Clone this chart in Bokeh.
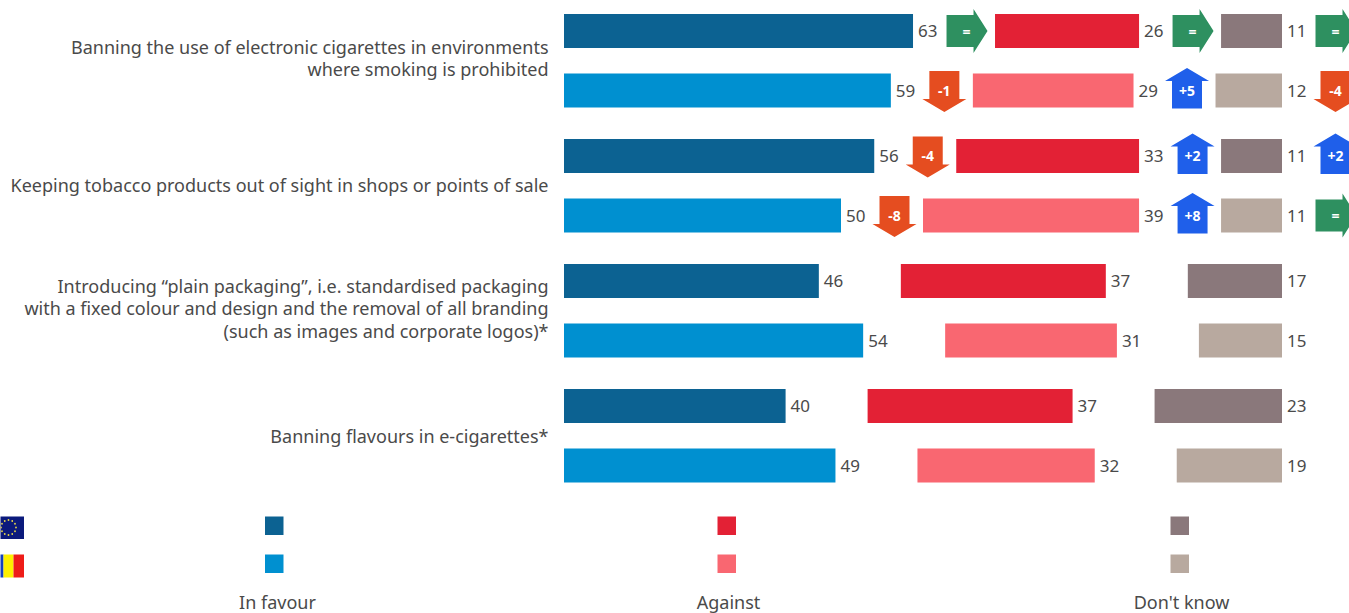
from bokeh.core.properties import value
from bokeh.embed import file_html
from bokeh.models import Range1d
from bokeh.plotting import figure
from bokeh.resources import INLINE
import numpy as np

WIDTH, HEIGHT = 1349, 613

# Survey results, one entry per bar pair row: EU then Romania for each statement
favour = [63, 59, 56, 50, 46, 54, 40, 49]
against = [26, 29, 33, 39, 37, 31, 37, 32]
dont_know = [11, 12, 11, 11, 17, 15, 23, 19]

# Change since the previous wave; None where the statement is new
favour_change = ["=", "-1", "-4", "-8", None, None, None, None]
against_change = ["=", "+5", "+2", "+8", None, None, None, None]
dont_know_change = ["=", "-4", "+2", "=", None, None, None, None]

statement_lines = [
    "Banning the use of electronic cigarettes in environments",
    "where smoking is prohibited",
    "Keeping tobacco products out of sight in shops or points of sale",
    "Introducing “plain packaging”, i.e. standardised packaging",
    "with a fixed colour and design and the removal of all branding",
    "(such as images and corporate logos)*",
    "Banning flavours in e-cigarettes*",
]
legend_names = ["In favour", "Against", "Don't know"]

# Layout, in screen pixels
row_y = np.array([30.5, 90, 155.5, 215, 280.5, 340, 405.5, 465])
line_y = [46, 68.5, 184, 285, 307.5, 330, 435]
BAR_H = 34
ORIGIN = 563.5
PX_PER_UNIT = 5.54
GAP = 82 / PX_PER_UNIT
FONT = value("Noto Sans")
TEXT = "#4a4a4a"

EU_COLORS = ["#0c6292", "#e32135", "#8a787b"]
RO_COLORS = ["#0090d0", "#f96771", "#b8a99f"]
UP, DOWN, SAME = "#1f5fea", "#e54d20", "#2e9060"


def px(x):
    """Horizontal screen pixel to data units."""
    return (np.asarray(x, dtype=float) - ORIGIN) / PX_PER_UNIT


def unit(d):
    """Horizontal pixel distance to data units."""
    return d / PX_PER_UNIT


p = figure(
    width=WIDTH, height=HEIGHT, output_backend="svg", toolbar_location=None,
    x_range=Range1d(px(0), px(WIDTH)), y_range=Range1d(HEIGHT, 0),
    x_axis_type=None, y_axis_type=None, min_border=0, outline_line_color=None,
    background_fill_color="white", border_fill_color="white",
)
p.grid.visible = False

# Three stacked segments separated by a fixed gap
fav = np.array(favour, float)
aga = np.array(against, float)
dkn = np.array(dont_know, float)
starts = [np.zeros(8), fav + GAP, fav + aga + 2 * GAP]
widths = [fav, aga, dkn]
series_changes = [favour_change, against_change, dont_know_change]


def draw_arrow(end, y, change):
    """Trend arrow placed after a bar end, with its change written inside."""
    c = end + unit(53.5)
    if change == "=":
        xs = [c - unit(20), c + unit(7), c + unit(7), c + unit(21), c + unit(7), c + unit(7), c - unit(20)]
        ys = [y - 16, y - 16, y - 22, y, y + 22, y + 16, y + 16]
        color = SAME
    elif change.startswith("+"):
        xs = [c - unit(15), c - unit(15), c - unit(22), c, c + unit(22), c + unit(15), c + unit(15)]
        ys = [y + 18, y - 9.5, y - 9.5, y - 22.5, y - 9.5, y - 9.5, y + 18]
        color = UP
    else:
        xs = [c - unit(15), c - unit(15), c - unit(22), c, c + unit(22), c + unit(15), c + unit(15)]
        ys = [y - 19.5, y + 8.5, y + 8.5, y + 21.5, y + 8.5, y + 8.5, y - 19.5]
        color = DOWN
    p.patch(xs, ys, fill_color=color, line_color=None)
    p.text([c], [y], text=[change], text_color="white", text_font=FONT,
           text_font_size="14px", text_font_style="bold",
           text_align="center", text_baseline="middle")


for s in range(3):
    for i in range(8):
        color = (EU_COLORS if i % 2 == 0 else RO_COLORS)[s]
        p.quad(left=starts[s][i], right=starts[s][i] + widths[s][i],
               top=row_y[i] - BAR_H / 2, bottom=row_y[i] + BAR_H / 2,
               fill_color=color, line_color=None)
    ends = starts[s] + widths[s]
    p.text(ends + unit(5), row_y, text=[str(int(v)) for v in widths[s]],
           text_color=TEXT, text_font=FONT, text_font_size="17px",
           text_align="left", text_baseline="middle")
    for i, change in enumerate(series_changes[s]):
        if change is not None:
            draw_arrow(ends[i], row_y[i], change)

# Statement labels, right-aligned against the bars
p.text([px(548)] * len(statement_lines), line_y, text=statement_lines,
       text_color=TEXT, text_font=FONT, text_font_size="18px",
       text_align="right", text_baseline="middle")

# Legend swatches and captions
for x0, cx, name, eu, ro in zip([264.5, 717, 1170], [277, 728, 1181], legend_names, EU_COLORS, RO_COLORS):
    p.quad(left=px(x0), right=px(x0 + 18.5), top=516, bottom=534.5, fill_color=eu, line_color=None)
    p.quad(left=px(x0), right=px(x0 + 18.5), top=554, bottom=572.5, fill_color=ro, line_color=None)
    p.text([px(cx)], [601], text=[name], text_color=TEXT, text_font=FONT, text_font_size="18px",
           text_align="center", text_baseline="middle")

# European flag, running off the left edge of the page
p.quad(left=px(-8), right=px(23.5), top=516, bottom=538.5, fill_color="#0b1a7c", line_color=None)
angles = np.arange(12) * np.pi / 6
p.scatter(px(8 + 7.5 * np.cos(angles)), 527 + 7.5 * np.sin(angles), marker="circle", size=1.8,
          fill_color="#e8d84a", line_color=None)

# Romanian flag, also cropped by the page edge
for x0, x1, c in [(-8, 3, "#1440c0"), (3, 13, "#fdf000"), (13, 23.5, "#ee1c18")]:
    p.quad(left=px(x0), right=px(x1), top=554, bottom=577, fill_color=c, line_color=None)

open("out.html", "w").write(file_html(p, INLINE))
